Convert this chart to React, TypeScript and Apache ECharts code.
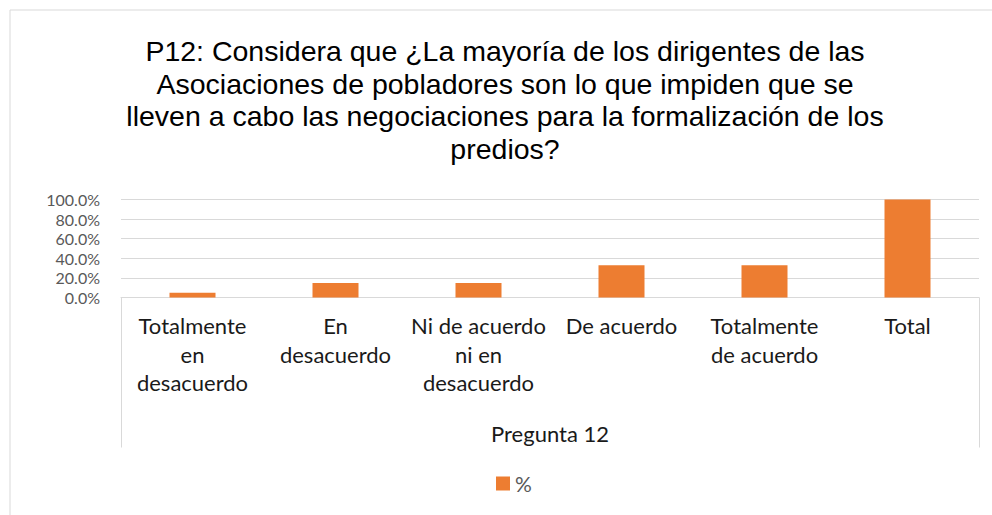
import React, { useEffect, useRef } from "react";
import * as echarts from "echarts";

const titleLines = [
  "P12: Considera que ¿La mayoría de los dirigentes de las",
  "Asociaciones de pobladores son lo que impiden que se",
  "lleven a cabo las negociaciones para la formalización de los",
  "predios?",
];
const categories = [
  "Totalmente\nen\ndesacuerdo",
  "En\ndesacuerdo",
  "Ni de acuerdo\nni en\ndesacuerdo",
  "De acuerdo",
  "Totalmente\nde acuerdo",
  "Total",
];
const groupLabels = ["Pregunta 12"];
const seriesName = "%";
const values = [4.9, 14.8, 14.8, 32.8, 32.8, 100];
const yTicks = { min: 0, max: 100, interval: 20 };

export default function App() {
  const ref = useRef<HTMLDivElement>(null);
  useEffect(() => {
    if (!ref.current) return;
    const chart = echarts.init(ref.current, null, { renderer: "svg" });
    chart.setOption({
      animation: false,
      backgroundColor: "#ffffff",
      title: {
        text: titleLines.join("\n"),
        left: 505,
        top: 35,
        padding: 0,
        textAlign: "center",
        textStyle: {
          fontFamily: "Liberation Sans",
          fontSize: 28.5,
          fontWeight: "normal",
          color: "#000000",
          lineHeight: 32.5,
        },
      },
      graphic: [
        {
          type: "rect",
          shape: { x: 10, y: 10, width: 1000, height: 600 },
          style: { fill: "none", stroke: "#d9d9d9", lineWidth: 1 },
          silent: true,
        },
      ],
      legend: {
        data: [seriesName],
        left: 496,
        top: 473,
        padding: 0,
        itemWidth: 14,
        itemHeight: 14,
        icon: "rect",
        textStyle: { fontFamily: "Lato", fontSize: 21, color: "#595959" },
      },
      grid: { left: 121, right: 13, top: 199.5, bottom: 217.5 },
      xAxis: [
        {
          type: "category",
          data: categories,
          position: "bottom",
          axisLine: { show: true, lineStyle: { color: "#d9d9d9", width: 1 } },
          axisTick: { show: false },
          axisLabel: {
            interval: 0,
            margin: 14,
            fontFamily: "Lato",
            fontSize: 22,
            lineHeight: 28.5,
            color: "#1a1a1a",
            align: "center",
          },
        },
        {
          type: "category",
          data: groupLabels,
          position: "bottom",
          axisLine: { show: false },
          axisTick: { show: true, length: 150, lineStyle: { color: "#d9d9d9", width: 1 } },
          axisLabel: {
            margin: 125,
            fontFamily: "Lato",
            fontSize: 22,
            color: "#1a1a1a",
          },
        },
      ],
      yAxis: {
        type: "value",
        min: yTicks.min,
        max: yTicks.max,
        interval: yTicks.interval,
        axisLine: { show: false },
        axisTick: { show: false },
        splitLine: { lineStyle: { color: "#d9d9d9", width: 1 } },
        axisLabel: {
          margin: 21,
          fontFamily: "Lato",
          fontSize: 16,
          lineHeight: 16,
          color: "#595959",
          showMinLabel: true,
          showMaxLabel: true,
          hideOverlap: false,
          formatter: (v: number) => v.toFixed(1) + "%",
        },
      },
      series: [
        {
          name: seriesName,
          type: "bar",
          data: values,
          xAxisIndex: 0,
          barWidth: 46,
          itemStyle: { color: "#ED7D31" },
        },
      ],
    });
    return () => chart.dispose();
  }, []);
  return (
    <div
      ref={ref}
      style={{ position: "absolute", left: 0, top: 0, width: 992, height: 515 }}
    />
  );
}
